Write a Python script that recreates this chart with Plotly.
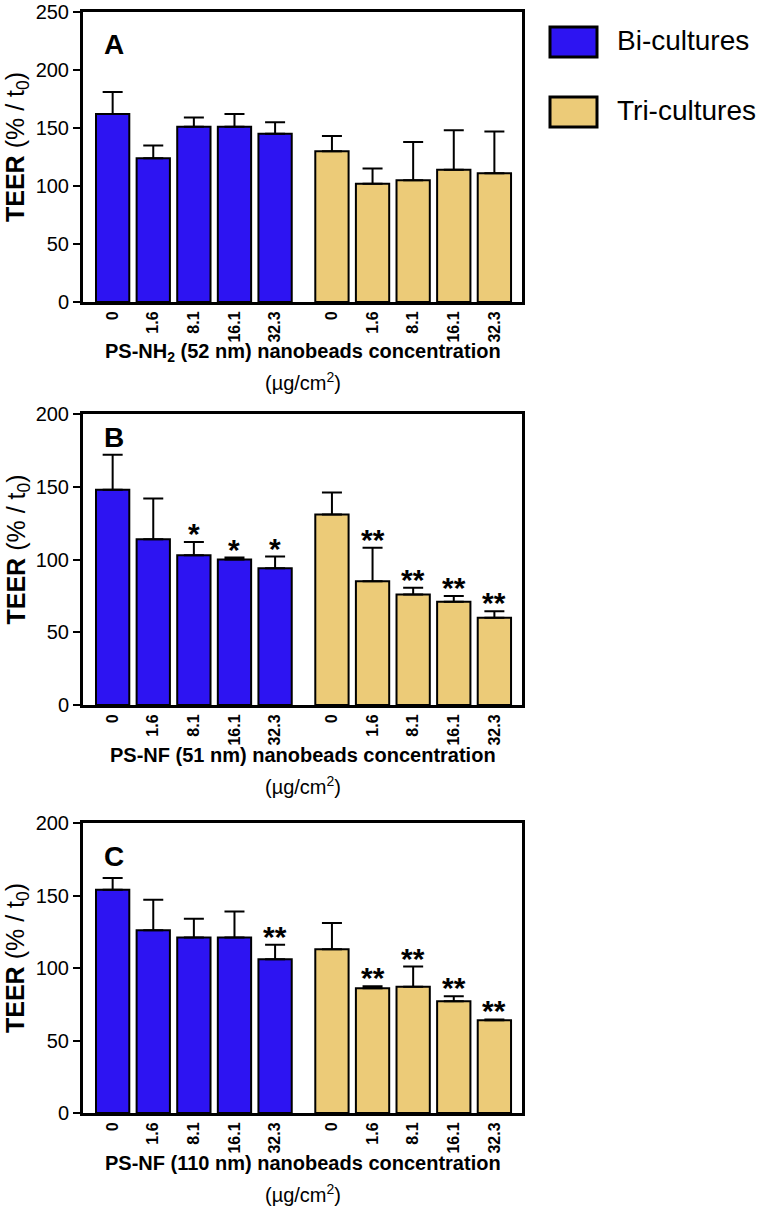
import plotly.graph_objects as go

conc = ["0", "1.6", "8.1", "16.1", "32.3"]
bi_pos = [0, 1, 2, 3, 4]
tri_pos = [5.4, 6.4, 7.4, 8.4, 9.4]

A_bi = [162, 124, 151, 151, 145]
A_bi_sd = [19, 11, 8, 11, 10]
A_tri = [130, 102, 105, 114, 111]
A_tri_sd = [13, 13, 33, 34, 36]

B_bi = [148, 114, 103, 100, 94]
B_bi_sd = [24, 28, 9, 1.3, 8]
B_tri = [131, 85, 76, 71, 60]
B_tri_sd = [15, 23, 4.5, 4, 4.5]

C_bi = [154, 126, 121, 121, 106]
C_bi_sd = [8, 21, 13, 18, 10]
C_tri = [113, 86, 87, 77, 64]
C_tri_sd = [18, 1.5, 14, 3.5, 0.5]

A_sig = [""] * 5
B_bi_sig = ["", "", "*", "*", "*"]
B_tri_sig = ["", "**", "**", "**", "**"]
C_bi_sig = ["", "", "", "", "**"]
C_tri_sig = ["", "**", "**", "**", "**"]

panel_letters = ["A", "B", "C"]
x_titles = ["PS-NH<sub>2</sub> (52 nm) nanobeads concentration",
            "PS-NF (51 nm) nanobeads concentration",
            "PS-NF (110 nm) nanobeads concentration"]
unit_title = "(µg/cm<sup>2</sup>)"
y_title = "<b>TEER</b> (% / t<sub>0</sub>)"
legend_names = ["Bi-cultures", "Tri-cultures"]

BLUE = "#2D14F2"
TAN = "#ECCB78"
FONT = "Liberation Sans, Arial, sans-serif"
W, H = 762, 1207


def px_x(x):
    return x / W


def px_y(y):
    return 1 - y / H


panels = [
    dict(bi=A_bi, bisd=A_bi_sd, tri=A_tri, trisd=A_tri_sd, bisig=A_sig, trisig=A_sig,
         ymax=250, top=12, bottom=302, letter_dy=33),
    dict(bi=B_bi, bisd=B_bi_sd, tri=B_tri, trisd=B_tri_sd, bisig=B_bi_sig, trisig=B_tri_sig,
         ymax=200, top=414, bottom=705, letter_dy=23),
    dict(bi=C_bi, bisd=C_bi_sd, tri=C_tri, trisd=C_tri_sd, bisig=C_bi_sig, trisig=C_tri_sig,
         ymax=200, top=823, bottom=1113, letter_dy=33),
]

x0_px, x1_px = 83, 522
fig = go.Figure()
annotations = []
shapes = []

for i, p in enumerate(panels):
    n = "" if i == 0 else str(i + 1)
    xa, ya = "x" + n, "y" + n
    for pos, vals, sd, col, sig in [(bi_pos, p["bi"], p["bisd"], BLUE, p["bisig"]),
                                     (tri_pos, p["tri"], p["trisd"], TAN, p["trisig"])]:
        fig.add_trace(go.Bar(
            x=pos, y=vals, width=0.82, xaxis=xa, yaxis=ya, showlegend=False,
            marker=dict(color=col, line=dict(color="black", width=2)),
            error_y=dict(type="data", array=sd, arrayminus=[0] * len(sd), symmetric=False,
                         color="black", thickness=2, width=10),
        ))
        for xv, v, s, t in zip(pos, vals, sd, sig):
            if t:
                annotations.append(dict(x=xv, y=v + s, xref=xa, yref=ya, text="<b>" + t + "</b>",
                                        showarrow=False, xanchor="center", yanchor="bottom",
                                        yshift=-10,
                                        font=dict(family=FONT, size=30, color="black")))
    dom_y = [px_y(p["bottom"]), px_y(p["top"])]
    fig.update_layout(**{
        "xaxis" + n: dict(domain=[px_x(x0_px), px_x(x1_px)], range=[-0.73, 10.08],
                          tickvals=bi_pos + tri_pos, ticktext=["<b>" + c + "</b>" for c in conc] * 2,
                          tickangle=-90, tickfont=dict(family=FONT, size=16, color="black"),
                          showline=True, linecolor="black", linewidth=3, mirror=True,
                          ticks="", showgrid=False, zeroline=False, anchor=ya,
                          automargin=False, ticklabeloverflow="allow", fixedrange=True),
        "yaxis" + n: dict(domain=dom_y, range=[0, p["ymax"]], dtick=50,
                          tickfont=dict(family=FONT, size=20, color="black"),
                          showline=True, linecolor="black", linewidth=3, mirror=True,
                          ticks="outside", ticklen=7, tickwidth=2, tickcolor="black",
                          showgrid=False, zeroline=False, anchor=xa,
                          automargin=False, ticklabeloverflow="allow", fixedrange=True),
    })
    cx = px_x(303)
    annotations.append(dict(x=cx, y=px_y(p["bottom"] + 50), xref="paper", yref="paper",
                            xanchor="center", yanchor="middle",
                            text="<b>" + x_titles[i] + "</b>", showarrow=False,
                            font=dict(family=FONT, size=20, color="black")))
    annotations.append(dict(x=cx, y=px_y(p["bottom"] + 80), xref="paper", yref="paper",
                            xanchor="center", yanchor="middle",
                            text=unit_title, showarrow=False,
                            font=dict(family=FONT, size=20, color="black")))
    annotations.append(dict(x=px_x(17), y=px_y((p["top"] + p["bottom"]) / 2 - 10),
                            xref="paper", yref="paper", xanchor="center", yanchor="middle",
                            text=y_title, showarrow=False, textangle=-90,
                            font=dict(family=FONT, size=25, color="black")))
    annotations.append(dict(x=px_x(114), y=px_y(p["top"] + p["letter_dy"]), xref="paper", yref="paper",
                            xanchor="center", yanchor="middle",
                            text="<b>" + panel_letters[i] + "</b>", showarrow=False,
                            font=dict(family=FONT, size=28, color="black")))

# legend
for j, (name, col) in enumerate(zip(legend_names, [BLUE, TAN])):
    yc = 42 + j * 70
    shapes.append(dict(type="rect", xref="paper", yref="paper",
                       x0=px_x(550), x1=px_x(597), y0=px_y(yc + 15), y1=px_y(yc - 15),
                       fillcolor=col, line=dict(color="black", width=3)))
    annotations.append(dict(x=px_x(615), y=px_y(yc - 2), xref="paper", yref="paper", text=name,
                            showarrow=False, xanchor="left", yanchor="middle",
                            font=dict(family=FONT, size=28, color="black")))

fig.update_layout(width=W, height=H, margin=dict(l=0, r=0, t=0, b=0),
                  paper_bgcolor="white", plot_bgcolor="white",
                  annotations=annotations, shapes=shapes, barmode="overlay")
fig.write_html("out.html", config={"displayModeBar": False},
               post_script="document.body.style.margin='0px';")
